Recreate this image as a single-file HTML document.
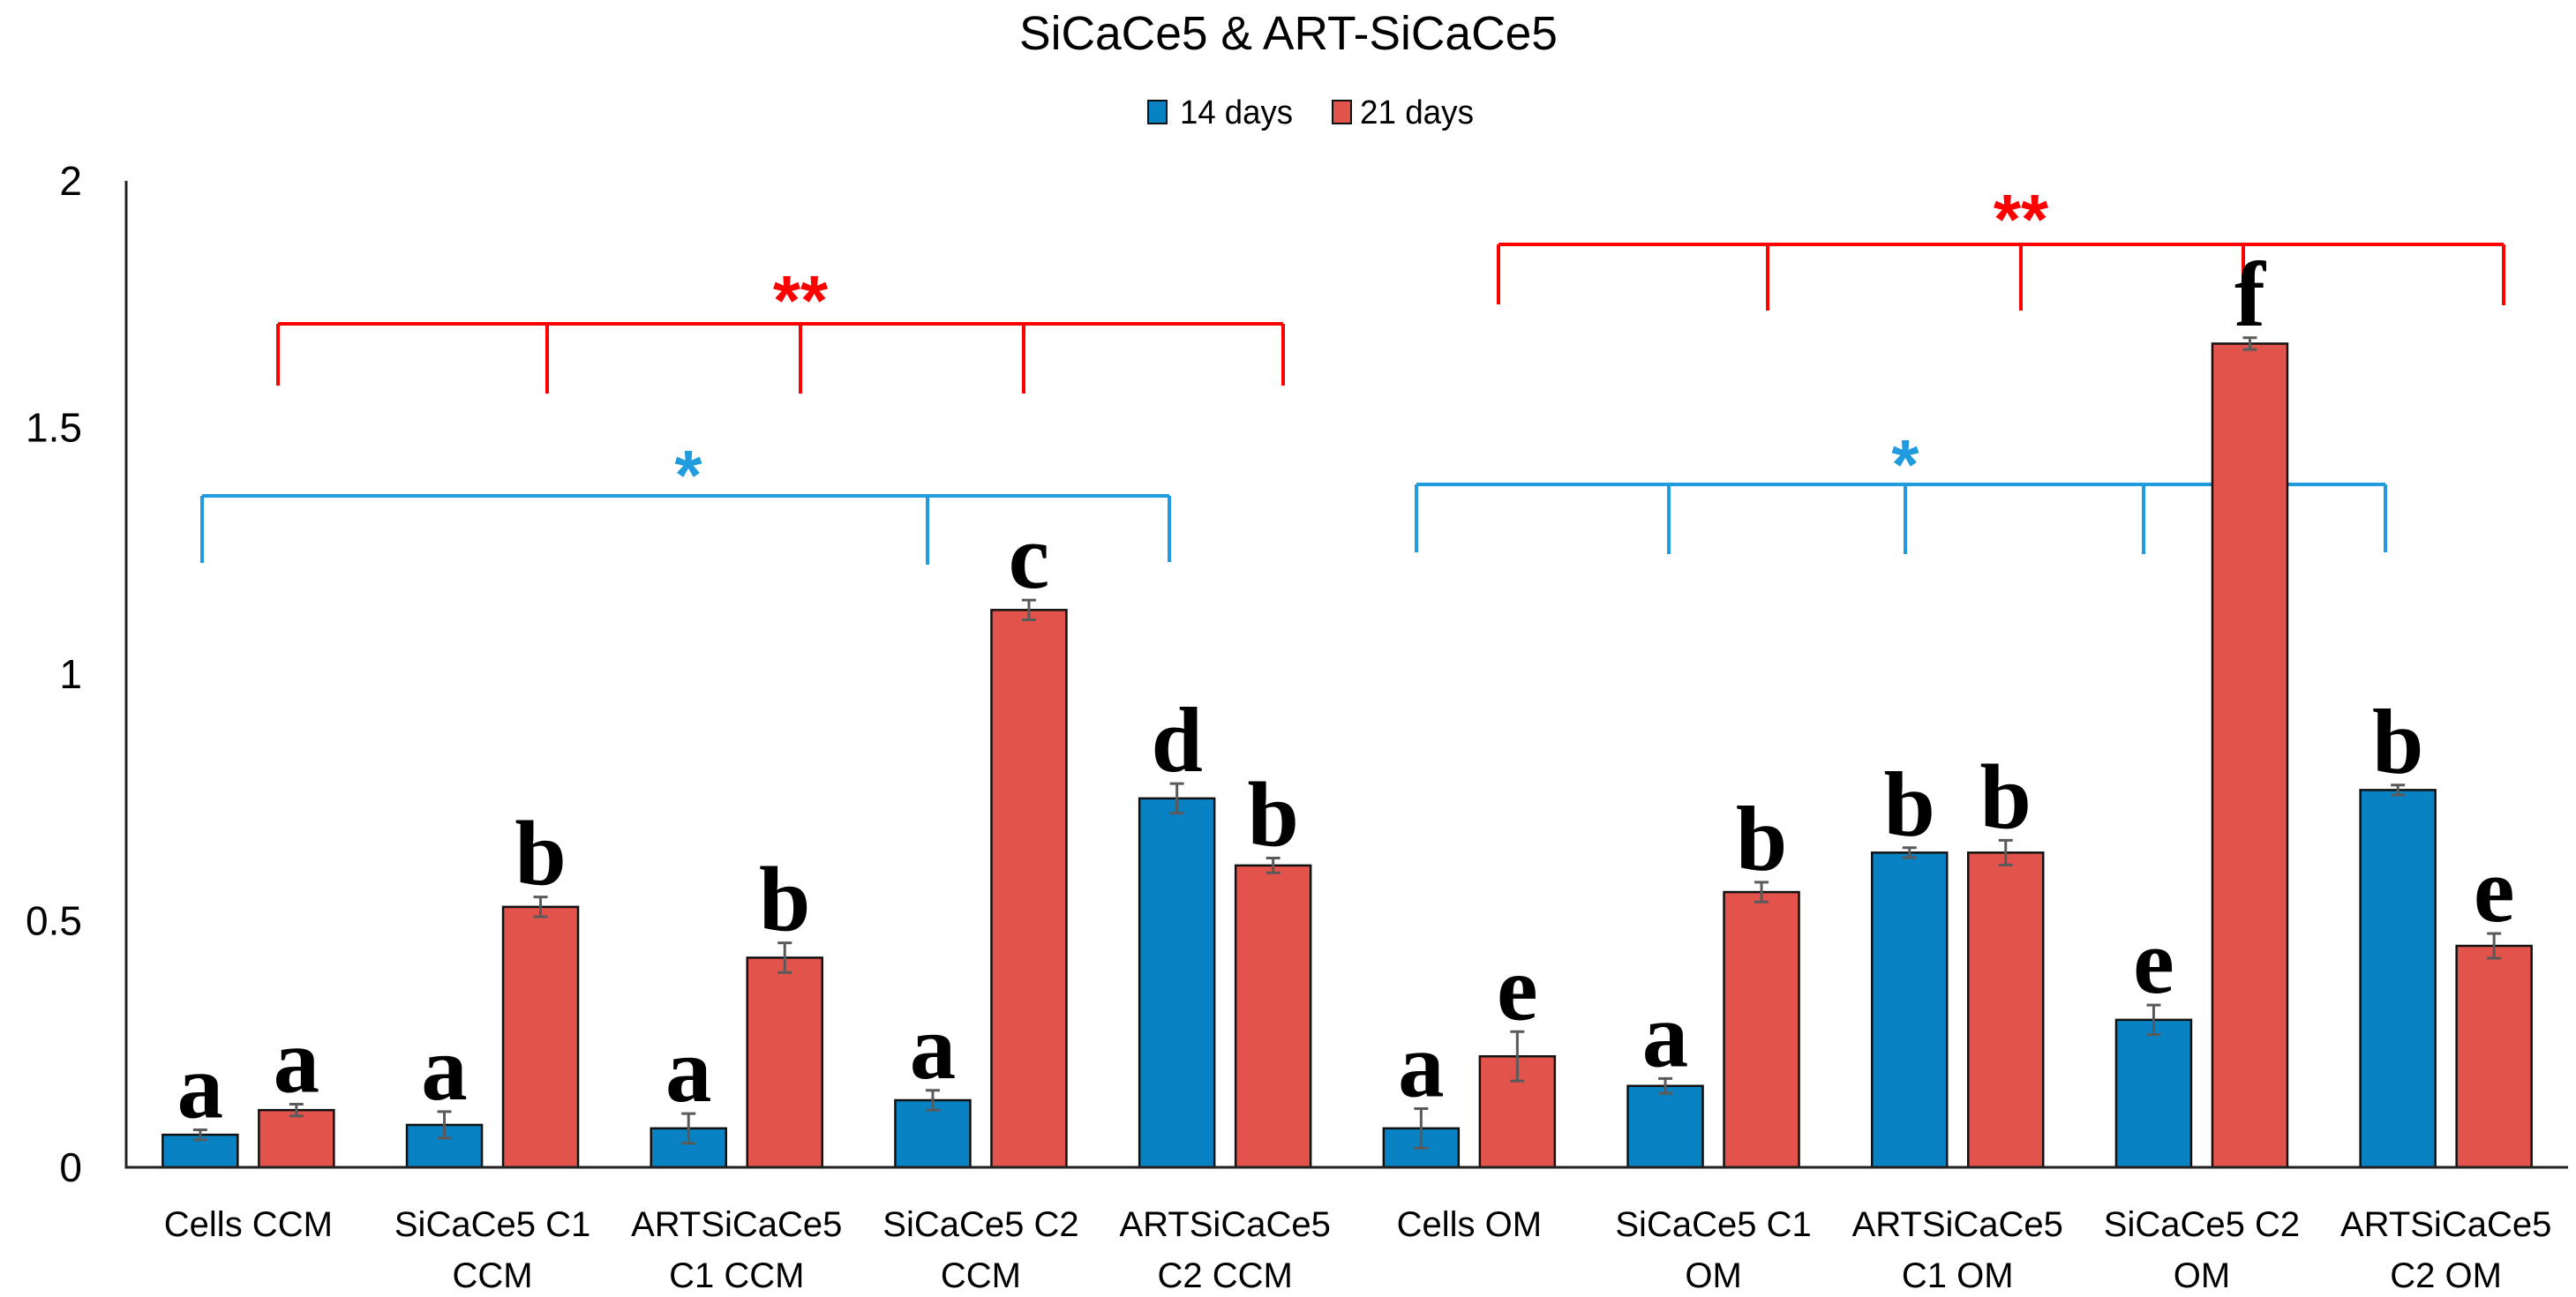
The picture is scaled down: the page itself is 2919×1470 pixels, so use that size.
<!DOCTYPE html>
<html><head><meta charset="utf-8">
<style>html,body{margin:0;padding:0;background:#fff;}svg{display:block;}</style>
</head><body>
<svg id="chart" width="2919" height="1470" viewBox="0 0 2919 1470" xmlns="http://www.w3.org/2000/svg">
<text x="1460" y="56" text-anchor="middle" font-family="Liberation Sans, sans-serif" font-size="54" textLength="610" lengthAdjust="spacingAndGlyphs">SiCaCe5 &amp; ART-SiCaCe5</text>
<g>
<rect x="1301" y="114" width="21" height="26" fill="#0882c2" stroke="#111" stroke-width="2"/>
<text x="1337" y="140" font-family="Liberation Sans, sans-serif" font-size="38" textLength="128" lengthAdjust="spacingAndGlyphs">14 days</text>
<rect x="1510" y="114" width="21" height="26" fill="#e2534b" stroke="#111" stroke-width="2"/>
<text x="1541" y="140" font-family="Liberation Sans, sans-serif" font-size="38" textLength="129" lengthAdjust="spacingAndGlyphs">21 days</text>
</g>
<g id="brackets"></g>
<g id="plot"></g>
</svg>
<script>
const categories1 = ["Cells CCM","SiCaCe5 C1","ARTSiCaCe5","SiCaCe5 C2","ARTSiCaCe5","Cells OM","SiCaCe5 C1","ARTSiCaCe5","SiCaCe5 C2","ARTSiCaCe5"];
const categories2 = ["","CCM","C1 CCM","CCM","C2 CCM","","OM","C1 OM","OM","C2 OM"];
const days14 = [0.066,0.086,0.079,0.136,0.748,0.079,0.165,0.638,0.299,0.765];
const days21 = [0.116,0.528,0.425,1.13,0.612,0.225,0.558,0.638,1.67,0.449];
const err14 = [0.01,0.027,0.03,0.02,0.03,0.04,0.015,0.01,0.03,0.01];
const err21 = [0.012,0.02,0.03,0.02,0.015,0.05,0.02,0.025,0.012,0.025];
const letters14 = ["a","a","a","a","d","a","a","b","e","b"];
const letters21 = ["a","b","b","c","b","e","b","b","f","e"];
const yTicks = [0,0.5,1,1.5,2];
const yTickLabels = ["0","0.5","1","1.5","2"];

const NS="http://www.w3.org/2000/svg";
const X0=143, X1=2910, Y0=1323, Ytop=205, YMAX=2;
const gw=(X1-X0)/categories1.length;
const bw=85, off=54.5;
function y(v){return Y0-(v/YMAX)*(Y0-Ytop);}
function xc(i){return X0+gw*(i+0.5);}
function mk(tag,attrs,parent){const e=document.createElementNS(NS,tag);for(const k in attrs)e.setAttribute(k,attrs[k]);parent.appendChild(e);return e;}
const plot=document.getElementById('plot');
const br=document.getElementById('brackets');

yTicks.forEach((t,i)=>{
  const e=mk('text',{x:93,y:y(t)+16,'text-anchor':'end','font-family':'Liberation Sans, sans-serif','font-size':46},plot);
  
  
  e.textContent=yTickLabels[i];
});

function drawBar(i,val,err,letter,dx,fill,series){
  const cx=xc(i)+dx;
  const r=mk('rect',{x:cx-bw/2,y:y(val),width:bw,height:Y0-y(val),fill:fill,stroke:'#111','stroke-width':2.5},plot);
  
  
  const g=mk('g',{stroke:'#5a5a5a','stroke-width':3},plot);
  
  
  mk('line',{x1:cx,x2:cx,y1:y(val+err),y2:y(val-err)},g);
  mk('line',{x1:cx-8,x2:cx+8,y1:y(val+err),y2:y(val+err)},g);
  mk('line',{x1:cx-8,x2:cx+8,y1:y(val-err),y2:y(val-err)},g);
  const t=mk('text',{x:cx,y:y(val+err)-14,'text-anchor':'middle','font-family':'Liberation Serif, serif','font-size':105,'font-weight':'bold'},plot);
  
  
  t.textContent=letter;
}
categories1.forEach((c,i)=>{
  drawBar(i,days14[i],err14[i],letters14[i],-off,'#0882c2','14-days');
  drawBar(i,days21[i],err21[i],letters21[i],off,'#e2534b','21-days');
  const t1=mk('text',{x:xc(i),y:1401,'text-anchor':'middle','font-family':'Liberation Sans, sans-serif','font-size':40},plot);
  
  
  t1.textContent=c;
  if(categories2[i]){
    const t2=mk('text',{x:xc(i),y:1459,'text-anchor':'middle','font-family':'Liberation Sans, sans-serif','font-size':40},plot);
    
    
    t2.textContent=categories2[i];
  }
});
const ax=mk('line',{x1:X0,x2:X0,y1:Ytop,y2:Y0+1.5,stroke:'#222','stroke-width':3},plot);


const axx=mk('line',{x1:X0,x2:X1,y1:Y0,y2:Y0,stroke:'#222','stroke-width':3},plot);



function bracket(name,color,yh,ticks,bottoms,label,lx,ly,fs){
  const g=mk('g',{stroke:color,'stroke-width':4,fill:'none'},br);
  
  
  mk('line',{x1:ticks[0],x2:ticks[ticks.length-1],y1:yh,y2:yh},g);
  ticks.forEach((tx,k)=>mk('line',{x1:tx,x2:tx,y1:yh,y2:bottoms[k]},g));
  const t=mk('text',{x:lx,y:ly,'text-anchor':'middle','font-family':'Liberation Sans, sans-serif','font-size':fs,'font-weight':'bold',fill:color},br);
  
  
  t.textContent=label;
}
bracket('red-bracket-ccm','#ff0000',367,[315,620,907,1160,1454],[437,446,446,446,437],'**',907,368,80);
bracket('blue-bracket-ccm','#1f9bde',562,[229,1051,1325],[638,640,637],'*',780,566,80);
bracket('red-bracket-om','#ff0000',277,[1698,2003,2290,2542,2837],[345,352,352,352,346],'**',2290,276,80);
bracket('blue-bracket-om','#1f9bde',549,[1605,1891,2159,2429,2703],[626,628,628,628,626],'*',2159,554,80);
</script>
</body></html>
